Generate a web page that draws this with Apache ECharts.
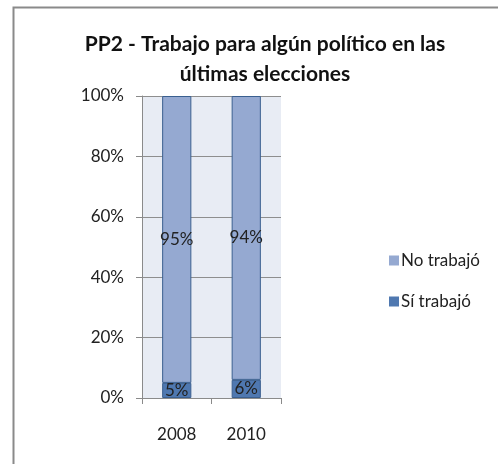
<!DOCTYPE html>
<html>
<head>
<meta charset="utf-8">
<script src="https://cdn.jsdelivr.net/npm/echarts@6/dist/echarts.min.js"></script>
<style>
  html, body { margin: 0; padding: 0; background: #fff; }
  #chart { width: 498px; height: 464px; }
</style>
</head>
<body>
<div id="chart"></div>
<script>
const years = ['2008', '2010'];
const siTrabajo = [5, 6];
const noTrabajo = [95, 94];
const yTicks = [0, 20, 40, 60, 80, 100];

const fontFamily = 'Lato, "Open Sans", sans-serif';
const chart = echarts.init(document.getElementById('chart'));

const label = {
  show: true,
  position: 'inside',
  formatter: '{c}%',
  color: '#222',
  fontSize: 17,
  fontFamily,
};

chart.setOption({
  animation: false,
  title: {
    text: 'PP2 - Trabajo para algún político en las\núltimas elecciones',
    left: 260,
    top: 24,
    textAlign: 'center',
    textStyle: {
      fontSize: 21,
      fontWeight: 'bold',
      color: '#111',
      fontFamily,
      lineHeight: 30,
    },
  },
  graphic: [{
    type: 'rect',
    shape: { x: 13.5, y: 7.5, width: 500, height: 480 },
    style: { fill: 'none', stroke: '#8a8a8a', lineWidth: 2 },
    silent: true,
  }],
  legend: {
    orient: 'vertical',
    left: 384,
    top: 247,
    itemWidth: 10,
    itemHeight: 10,
    itemGap: 24,
    icon: 'rect',
    data: ['No trabajó', 'Sí trabajó'],
    itemStyle: { borderWidth: 0 },
    textStyle: { fontSize: 17, color: '#222', fontFamily, padding: [0, 0, 0, -3] },
  },
  grid: {
    left: 142,
    top: 96,
    width: 139,
    height: 302,
    show: true,
    backgroundColor: '#E8ECF4',
    borderWidth: 0,
  },
  xAxis: {
    type: 'category',
    data: years,
    axisLine: { lineStyle: { color: '#8a8a8a' } },
    axisTick: { show: true, length: 6, alignWithLabel: false, lineStyle: { color: '#8a8a8a' } },
    axisLabel: { fontSize: 17, color: '#222', fontFamily, margin: 28 },
  },
  yAxis: {
    type: 'value',
    min: yTicks[0],
    max: yTicks[yTicks.length - 1],
    interval: 20,
    axisLine: { show: true, lineStyle: { color: '#8a8a8a' } },
    axisTick: { show: true, length: 6, lineStyle: { color: '#8a8a8a' } },
    axisLabel: { fontSize: 17, color: '#222', fontFamily, margin: 18, formatter: '{value}%' },
    splitLine: { lineStyle: { color: '#8e8e8e' } },
  },
  series: [{
    name: 'Sí trabajó',
    type: 'bar',
    stack: 'total',
    barWidth: '42%',
    data: siTrabajo,
    label,
    itemStyle: { color: '#4F78B0', borderColor: '#3A5F8F', borderWidth: 1 },
  }, {
    name: 'No trabajó',
    type: 'bar',
    stack: 'total',
    barWidth: '42%',
    data: noTrabajo,
    label,
    itemStyle: { color: '#95A9D1', borderColor: '#3A5F8F', borderWidth: 1 },
  }],
});
</script>
</body>
</html>
